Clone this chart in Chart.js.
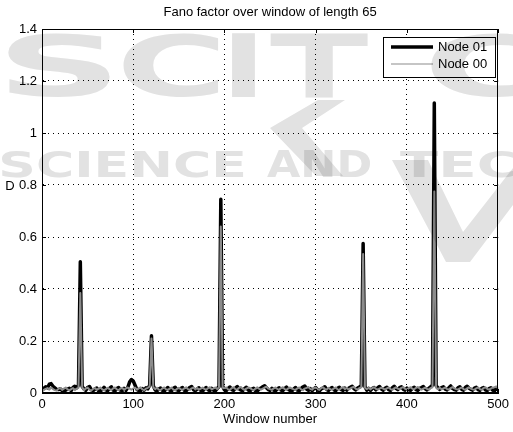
<!DOCTYPE html>
<html><head><meta charset="utf-8">
<script src="https://cdn.jsdelivr.net/npm/chart.js@4/dist/chart.umd.min.js"></script>
<style>html,body{margin:0;padding:0;background:#fff}#wrap{width:513px;height:432px}</style>
</head><body><div id="wrap"><canvas id="c" width="513" height="432"></canvas></div>
<script>
const titleText = 'Fano factor over window of length 65';
const xAxisLabel = 'Window number';
const yAxisLabel = 'D';
const seriesNames = ['Node 01', 'Node 00'];
const xTickValues = [0, 100, 200, 300, 400, 500];
const yTickValues = [0, 0.2, 0.4, 0.6, 0.8, 1, 1.2, 1.4];
const windowStep = 2; // windows 0,2,4,...,500

const node01 = [
0.012,0.018,0.024,0.020,0.034,0.036,0.026,0.020,0.014,0.013,
0.016,0.010,0.008,0.011,0.015,0.018,0.009,0.021,0.026,0.020,
0.030,0.505,0.025,0.016,0.010,0.021,0.025,0.013,0.009,0.015,
0.019,0.008,0.007,0.014,0.022,0.012,0.009,0.018,0.024,0.011,
0.008,0.017,0.021,0.011,0.009,0.018,0.010,0.021,0.042,0.052,
0.046,0.030,0.014,0.010,0.008,0.017,0.011,0.020,0.016,0.030,
0.220,0.028,0.012,0.008,0.015,0.019,0.010,0.007,0.016,0.021,
0.011,0.008,0.018,0.022,0.012,0.009,0.017,0.021,0.010,0.008,
0.016,0.021,0.025,0.013,0.009,0.015,0.020,0.010,0.007,0.016,
0.021,0.013,0.009,0.018,0.011,0.008,0.017,0.024,0.745,0.026,
0.012,0.009,0.018,0.023,0.013,0.010,0.019,0.025,0.016,0.011,
0.009,0.017,0.022,0.012,0.008,0.015,0.018,0.009,0.007,0.015,
0.019,0.024,0.028,0.020,0.013,0.010,0.018,0.011,0.008,0.016,
0.020,0.011,0.009,0.017,0.023,0.014,0.010,0.008,0.016,0.021,
0.011,0.009,0.018,0.023,0.027,0.015,0.010,0.017,0.009,0.016,
0.021,0.012,0.008,0.015,0.019,0.024,0.014,0.010,0.017,0.021,
0.012,0.009,0.018,0.022,0.013,0.010,0.019,0.011,0.018,0.022,
0.026,0.016,0.012,0.019,0.023,0.028,0.575,0.024,0.011,0.018,
0.010,0.017,0.021,0.012,0.020,0.025,0.015,0.011,0.018,0.022,
0.013,0.010,0.020,0.026,0.018,0.013,0.021,0.024,0.014,0.011,
0.019,0.012,0.010,0.018,0.022,0.013,0.010,0.018,0.021,0.025,
0.016,0.012,0.018,0.024,0.030,1.115,0.028,0.020,0.014,0.021,
0.024,0.015,0.012,0.020,0.027,0.018,0.013,0.011,0.020,0.024,
0.014,0.011,0.021,0.026,0.019,0.014,0.011,0.019,0.022,0.013,
0.010,0.018,0.021,0.012,0.009,0.017,0.020,0.011,0.008,0.020,
0.012
];

const node00 = [
0.006,0.012,0.016,0.019,0.013,0.021,0.015,0.011,0.009,0.016,
0.019,0.012,0.017,0.021,0.014,0.010,0.015,0.019,0.011,0.017,
0.020,0.385,0.022,0.011,0.017,0.021,0.013,0.009,0.016,0.019,
0.012,0.017,0.021,0.014,0.010,0.015,0.020,0.015,0.011,0.018,
0.021,0.014,0.011,0.017,0.020,0.012,0.018,0.021,0.017,0.013,
0.017,0.021,0.013,0.018,0.022,0.014,0.011,0.017,0.020,0.025,
0.210,0.022,0.015,0.020,0.013,0.011,0.018,0.021,0.014,0.012,
0.017,0.021,0.013,0.010,0.016,0.020,0.015,0.012,0.018,0.022,
0.015,0.012,0.018,0.021,0.014,0.019,0.013,0.017,0.021,0.016,
0.012,0.019,0.022,0.014,0.018,0.021,0.015,0.022,0.640,0.020,
0.018,0.021,0.014,0.012,0.019,0.022,0.015,0.013,0.020,0.023,
0.016,0.012,0.017,0.021,0.019,0.014,0.011,0.017,0.022,0.016,
0.013,0.017,0.021,0.024,0.017,0.015,0.012,0.018,0.021,0.015,
0.013,0.019,0.022,0.015,0.012,0.018,0.021,0.017,0.014,0.012,
0.018,0.021,0.014,0.011,0.017,0.020,0.023,0.016,0.013,0.019,
0.021,0.015,0.012,0.019,0.022,0.016,0.013,0.020,0.015,0.012,
0.018,0.021,0.014,0.012,0.019,0.023,0.015,0.020,0.013,0.018,
0.021,0.024,0.016,0.013,0.019,0.022,0.535,0.020,0.015,0.020,
0.014,0.019,0.022,0.016,0.013,0.017,0.021,0.017,0.013,0.018,
0.021,0.015,0.012,0.018,0.022,0.017,0.014,0.020,0.023,0.016,
0.013,0.019,0.022,0.016,0.014,0.020,0.023,0.017,0.013,0.017,
0.021,0.016,0.013,0.019,0.022,0.775,0.020,0.015,0.020,0.014,
0.018,0.021,0.015,0.013,0.019,0.023,0.018,0.015,0.013,0.018,
0.021,0.015,0.012,0.018,0.022,0.017,0.014,0.012,0.018,0.021,
0.015,0.012,0.019,0.022,0.016,0.013,0.017,0.021,0.022,0.025,
0.018
];

const FONT = 'Liberation Sans, Arial, Helvetica, sans-serif';
const toPoints = arr => arr.map((v, i) => ({x: i * windowStep, y: v}));

function fitText(ctx, text, x0, x1, top, bottom, weight) {
  ctx.save();
  ctx.font = (weight || 'bold') + ' 100px "DejaVu Sans"';
  const m = ctx.measureText(text);
  const w = m.actualBoundingBoxLeft + m.actualBoundingBoxRight;
  const h = m.actualBoundingBoxAscent + m.actualBoundingBoxDescent;
  ctx.translate(x0, top);
  ctx.scale((x1 - x0) / w, (bottom - top) / h);
  ctx.textBaseline = 'alphabetic';
  ctx.fillText(text, m.actualBoundingBoxLeft, m.actualBoundingBoxAscent);
  ctx.restore();
}
function poly(ctx, pts) {
  ctx.beginPath(); ctx.moveTo(pts[0][0], pts[0][1]);
  for (let i = 1; i < pts.length; i++) ctx.lineTo(pts[i][0], pts[i][1]);
  ctx.closePath(); ctx.fill();
}

const framePlugin = {
  id: 'frame',
  afterDatasetsDraw(chart) {
    const {ctx, chartArea: a} = chart;
    ctx.save();
    ctx.strokeStyle = '#000'; ctx.lineWidth = 1;
    ctx.strokeRect(Math.round(a.left) + 0.5, Math.round(a.top) + 0.5, Math.round(a.right - a.left) - 1, Math.round(a.bottom - a.top) - 1);
    const xs = chart.scales.x, ys = chart.scales.y;
    ctx.beginPath();
    xTickValues.forEach(v => {
      const px = Math.round(xs.getPixelForValue(v)) + 0.5;
      ctx.moveTo(px, a.bottom); ctx.lineTo(px, a.bottom - 4);
      ctx.moveTo(px, a.top); ctx.lineTo(px, a.top + 4);
    });
    yTickValues.forEach(v => {
      const py = Math.round(ys.getPixelForValue(v)) + 0.5;
      ctx.moveTo(a.left, py); ctx.lineTo(a.left + 4, py);
      ctx.moveTo(a.right, py); ctx.lineTo(a.right - 4, py);
    });
    ctx.stroke();
    ctx.fillStyle = '#000';
    ctx.font = '13px ' + FONT;
    ctx.textAlign = 'center'; ctx.textBaseline = 'middle';
    ctx.fillText(yAxisLabel, 10, 186);
    const bx = 383.5, by = 37.5, bw = 112, bh = 40;
    ctx.fillStyle = '#fff'; ctx.fillRect(bx, by, bw, bh);
    ctx.strokeStyle = '#000'; ctx.lineWidth = 1; ctx.strokeRect(bx, by, bw, bh);
    const ds = chart.data.datasets;
    [[47, 0], [64, 1]].forEach(([ly, i]) => {
      ctx.beginPath();
      ctx.strokeStyle = ds[i].borderColor; ctx.lineWidth = i === 0 ? 3.5 : 1.2;
      ctx.moveTo(391, ly); ctx.lineTo(433, ly); ctx.stroke();
      ctx.fillStyle = '#000'; ctx.textAlign = 'left';
      ctx.fillText(ds[i].label, 438, ly);
    });
    ctx.restore();
  }
};

const watermarkPlugin = {
  id: 'watermark',
  afterDraw(chart) {
    const ctx = chart.ctx;
    ctx.save();
    ctx.globalCompositeOperation = 'multiply';
    ctx.fillStyle = '#e2e2e2';
    fitText(ctx, 'S', 8, 110, 33, 97);
    fitText(ctx, 'C', 122, 218, 33, 97);
    fitText(ctx, 'I', 232, 255, 33, 97);
    fitText(ctx, 'T', 270, 368, 33, 97);
    fitText(ctx, 'C', 430, 535, 33, 97);
    poly(ctx, [[318,100],[345,100],[302,128],[343,176],[316,176],[270,128]]);
    fitText(ctx, 'SCIENCE', 2, 243, 150, 177);
    fitText(ctx, 'AND', 267, 370, 150, 177);
    fitText(ctx, 'TECH', 400, 560, 150, 177);
    poly(ctx, [[392,160],[428,160],[463,232],[513,168],[513,205],[470,262],[446,262]]);
    ctx.restore();
  }
};

new Chart(document.getElementById('c'), {
  type: 'line',
  data: {
    datasets: [
      {label: seriesNames[0], data: toPoints(node01), borderColor: '#000000', borderWidth: 3.5,
       pointRadius: 0, tension: 0, borderJoinStyle: 'round', borderCapStyle: 'round', order: 1},
      {label: seriesNames[1], data: toPoints(node00), borderColor: '#8c8c8c', borderWidth: 2,
       pointRadius: 0, tension: 0, borderJoinStyle: 'round', order: 0}
    ]
  },
  options: {
    responsive: false, animation: false, devicePixelRatio: 1,
    layout: {padding: {left: 0, right: 11, top: 0, bottom: 0}},
    plugins: {
      legend: {display: false}, tooltip: {enabled: false},
      title: {display: true, text: titleText, color: '#000', fullSize: false,
        font: {family: FONT, size: 13, weight: 'normal'}, padding: {top: 5, bottom: 8.4}}
    },
    scales: {
      x: {
        type: 'linear', min: 0, max: 500,
        afterBuildTicks: s => { s.ticks = xTickValues.map(v => ({value: v})); },
        afterFit: s => { s.height = 39; },
        ticks: {color: '#000', font: {family: FONT, size: 13}, padding: 4, maxRotation: 0, callback: v => String(v)},
        grid: {drawTicks: false, color: c => (c.tick && (c.tick.value === 0 || c.tick.value === 500)) ? 'rgba(0,0,0,0)' : '#000', lineWidth: 1},
        border: {display: true, color: '#000', dash: [1, 4]},
        title: {display: true, text: xAxisLabel, color: '#000', font: {family: FONT, size: 13}, padding: {top: 0, bottom: 4.6}}
      },
      y: {
        type: 'linear', min: 0, max: 1.4,
        afterBuildTicks: s => { s.ticks = yTickValues.map(v => ({value: v})); },
        afterFit: s => { s.width = 42; },
        ticks: {color: '#000', font: {family: FONT, size: 13}, padding: 5, callback: v => String(Math.round(v * 10) / 10)},
        grid: {drawTicks: false, color: c => (c.tick && (c.tick.value === 0 || Math.abs(c.tick.value - 1.4) < 1e-9)) ? 'rgba(0,0,0,0)' : '#000', lineWidth: 1},
        border: {display: true, color: '#000', dash: [1, 4]}
      }
    }
  },
  plugins: [framePlugin, watermarkPlugin]
});
</script>
</body></html>
